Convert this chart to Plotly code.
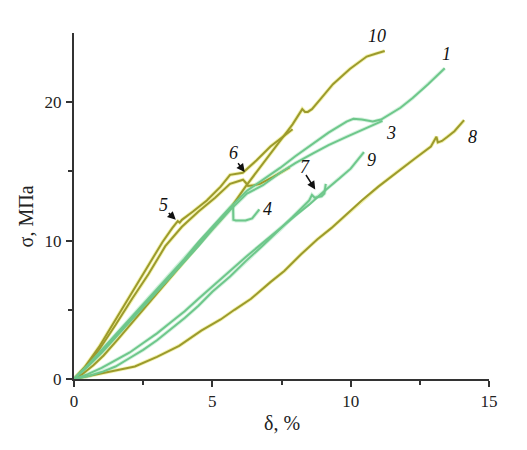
import plotly.graph_objects as go

# ---- data ----
c1_x = [0, 0.5, 1, 1.5, 2, 2.5, 3, 3.5, 4, 4.5, 5, 5.64, 6.25, 6.83, 7.45, 8.0, 8.64, 9.2, 9.85, 10.1, 10.4, 10.8, 11.1, 11.4, 11.8, 12.24, 12.8, 13.4]
c1_y = [0, 1.0, 2.1, 3.2, 4.3, 5.4, 6.5, 7.6, 8.7, 9.9, 11.0, 12.4, 13.6, 14.4, 15.25, 16.1, 17.0, 17.8, 18.6, 18.8, 18.75, 18.6, 18.75, 19.1, 19.6, 20.3, 21.3, 22.45]

c3_x = [0, 0.5, 1, 1.5, 2, 2.5, 3, 3.5, 4, 4.5, 5, 5.64, 6.25, 6.83, 7.45, 8.0, 8.64, 9.2, 9.85, 10.5, 11.15]
c3_y = [0, 0.9, 1.9, 3.0, 4.1, 5.2, 6.3, 7.4, 8.5, 9.6, 10.8, 12.2, 13.4, 14.0, 14.9, 15.6, 16.3, 16.9, 17.5, 18.1, 18.65]

c4_x = [0, 0.5, 1, 1.5, 2, 2.5, 3, 3.5, 4, 4.5, 5, 5.4, 5.75, 5.76, 5.85, 6.2, 6.44, 6.7]
c4_y = [0, 1.0, 2.0, 3.1, 4.2, 5.3, 6.4, 7.5, 8.6, 9.7, 10.9, 11.8, 12.5, 11.5, 11.45, 11.45, 11.6, 12.25]

c5_x = [0, 0.4, 0.9, 1.5, 2.1, 2.7, 3.2, 3.55, 3.75, 3.82, 3.9, 4.3, 4.8, 5.3, 5.64, 6.1, 6.6, 7.1, 7.5, 7.9]
c5_y = [0, 0.9, 2.3, 4.3, 6.3, 8.2, 9.9, 10.9, 11.4, 11.3, 11.5, 12.1, 12.9, 13.9, 14.75, 14.9, 15.8, 16.8, 17.4, 18.05]

c6_x = [0, 0.4, 0.9, 1.5, 2.1, 2.7, 3.3, 3.9, 4.5, 5.1, 5.64, 6.11, 6.2, 6.29, 6.5, 6.72, 7.2, 7.8]
c6_y = [0, 0.8, 2.1, 3.9, 5.8, 7.6, 9.6, 11.0, 12.1, 13.1, 14.1, 14.4, 14.2, 13.95, 14.0, 14.1, 14.6, 15.3]

c7_x = [0, 0.5, 1, 1.5, 2, 2.5, 3, 3.5, 4, 4.5, 5, 5.64, 6.2, 6.8, 7.45, 7.9, 8.3, 8.5, 8.6, 8.7, 8.95, 9.05, 9.1]
c7_y = [0, 0.2, 0.5, 0.9, 1.5, 2.1, 2.8, 3.6, 4.4, 5.3, 6.3, 7.4, 8.5, 9.6, 10.8, 11.7, 12.5, 12.9, 13.3, 13.1, 13.2, 13.4, 14.1]

c8_x = [0, 0.5, 1.2, 2.2, 3.0, 3.8, 4.6, 5.3, 5.8, 6.4, 7.1, 7.6, 8.2, 8.8, 9.3, 9.8, 10.4, 11.0, 11.7, 12.3, 12.9, 13.1, 13.15, 13.3, 13.5, 13.75, 14.1]
c8_y = [0, 0.2, 0.5, 0.9, 1.6, 2.4, 3.5, 4.3, 5.0, 5.8, 7.0, 7.8, 9.0, 10.1, 10.9, 11.8, 12.9, 13.9, 15.0, 15.9, 16.8, 17.5, 17.1, 17.2, 17.5, 17.9, 18.7]

c9_x = [0, 0.5, 1, 1.5, 2, 2.5, 3, 3.5, 4, 4.5, 5, 5.64, 6.2, 6.8, 7.45, 8.0, 8.5, 9.0, 9.6, 10.0, 10.48]
c9_y = [0, 0.35, 0.8, 1.35, 1.9, 2.6, 3.3, 4.1, 4.9, 5.8, 6.7, 7.8, 8.8, 9.8, 10.9, 11.8, 12.6, 13.5, 14.5, 15.2, 16.4]

c10_x = [0, 0.3, 0.7, 1.07, 1.6, 2.15, 2.6, 3.0, 3.6, 4.2, 4.8, 5.3, 5.64, 6.2, 6.8, 7.45, 7.9, 8.25, 8.35, 8.45, 8.6, 8.9, 9.36, 9.97, 10.3, 10.58, 10.9, 11.23]
c10_y = [0, 0.35, 1.0, 1.7, 2.9, 4.2, 5.2, 6.2, 7.6, 9.0, 10.4, 11.5, 12.3, 13.9, 15.5, 17.2, 18.4, 19.5, 19.3, 19.3, 19.5, 20.2, 21.3, 22.4, 22.9, 23.3, 23.5, 23.7]

label_text = ["10", "1", "3", "8", "9", "7", "4", "6", "5"]
label_x = [10.95, 13.45, 11.45, 14.4, 10.75, 8.35, 6.98, 5.76, 3.23]
label_y = [24.8, 23.5, 17.8, 17.5, 15.8, 15.3, 12.3, 16.3, 12.6]

arrow_tail_x = [3.37, 5.89, 8.35]
arrow_tail_y = [12.1, 15.7, 14.85]
arrow_head_x = [3.68, 6.17, 8.72]
arrow_head_y = [11.5, 14.95, 13.7]

OLIVE = "#9c9a2c"
OLIVE_HALO = "rgba(232,232,110,0.55)"
GREEN = "#6ec78b"
GREEN_HALO = "rgba(170,230,190,0.5)"
FONT = "Liberation Serif"

curves = [
    (c8_x, c8_y, OLIVE, OLIVE_HALO),
    (c10_x, c10_y, OLIVE, OLIVE_HALO),
    (c5_x, c5_y, OLIVE, OLIVE_HALO),
    (c6_x, c6_y, OLIVE, OLIVE_HALO),
    (c9_x, c9_y, GREEN, GREEN_HALO),
    (c7_x, c7_y, GREEN, GREEN_HALO),
    (c3_x, c3_y, GREEN, GREEN_HALO),
    (c4_x, c4_y, GREEN, GREEN_HALO),
    (c1_x, c1_y, GREEN, GREEN_HALO),
]

fig = go.Figure()
for xs, ys, col, halo in curves:
    fig.add_trace(go.Scatter(x=xs, y=ys, mode="lines",
                             line=dict(color=halo, width=3.8), hoverinfo="skip"))
for xs, ys, col, halo in curves:
    fig.add_trace(go.Scatter(x=xs, y=ys, mode="lines",
                             line=dict(color=col, width=2)))

for t, x, y in zip(label_text, label_x, label_y):
    fig.add_annotation(x=x, y=y, text="<i>" + t + "</i>", showarrow=False,
                       font=dict(family=FONT, size=18, color="#111"))

for tx, ty, hx, hy in zip(arrow_tail_x, arrow_tail_y, arrow_head_x, arrow_head_y):
    fig.add_annotation(x=hx, y=hy, ax=tx, ay=ty, xref="x", yref="y",
                       axref="x", ayref="y", text="", showarrow=True,
                       arrowhead=2, arrowsize=1.1, arrowwidth=1.5, arrowcolor="#111")

fig.add_annotation(xref="paper", yref="paper", x=0, y=0.47, xshift=-48,
                   xanchor="center", yanchor="middle",
                   text="σ, МПа", textangle=-90, showarrow=False,
                   font=dict(family=FONT, size=20, color="#222"))
fig.add_annotation(xref="paper", yref="paper", x=0.5, y=0, yshift=-44,
                   xanchor="center", yanchor="middle",
                   text="δ, %", showarrow=False,
                   font=dict(family=FONT, size=20, color="#222"))

axis_common = dict(showline=True, linecolor="#333", linewidth=2, ticks="outside",
                   ticklen=6, tickwidth=1.5, tickcolor="#333", showgrid=False,
                   zeroline=False, automargin=False,
                   tickfont=dict(family=FONT, size=17, color="#222"))

fig.update_xaxes(range=[0, 15], tickvals=[0, 5, 10, 15],
                 minor=dict(tickvals=[2.5, 7.5, 12.5], ticklen=4, ticks="outside",
                            tickwidth=1.5, tickcolor="#333"),
                 **axis_common)
fig.update_yaxes(range=[0, 25], tickvals=[0, 10, 20], ticklabelstandoff=1,
                 minor=dict(tickvals=[5, 15], ticklen=4, ticks="outside",
                            tickwidth=1.5, tickcolor="#333"),
                 **axis_common)

# the page body adds an 8 px offset, so the figure is sized to compensate
fig.update_layout(width=519, height=442, showlegend=False,
                  paper_bgcolor="white", plot_bgcolor="white",
                  margin=dict(l=66, r=38, t=25, b=71))

fig.write_html("out.html")
